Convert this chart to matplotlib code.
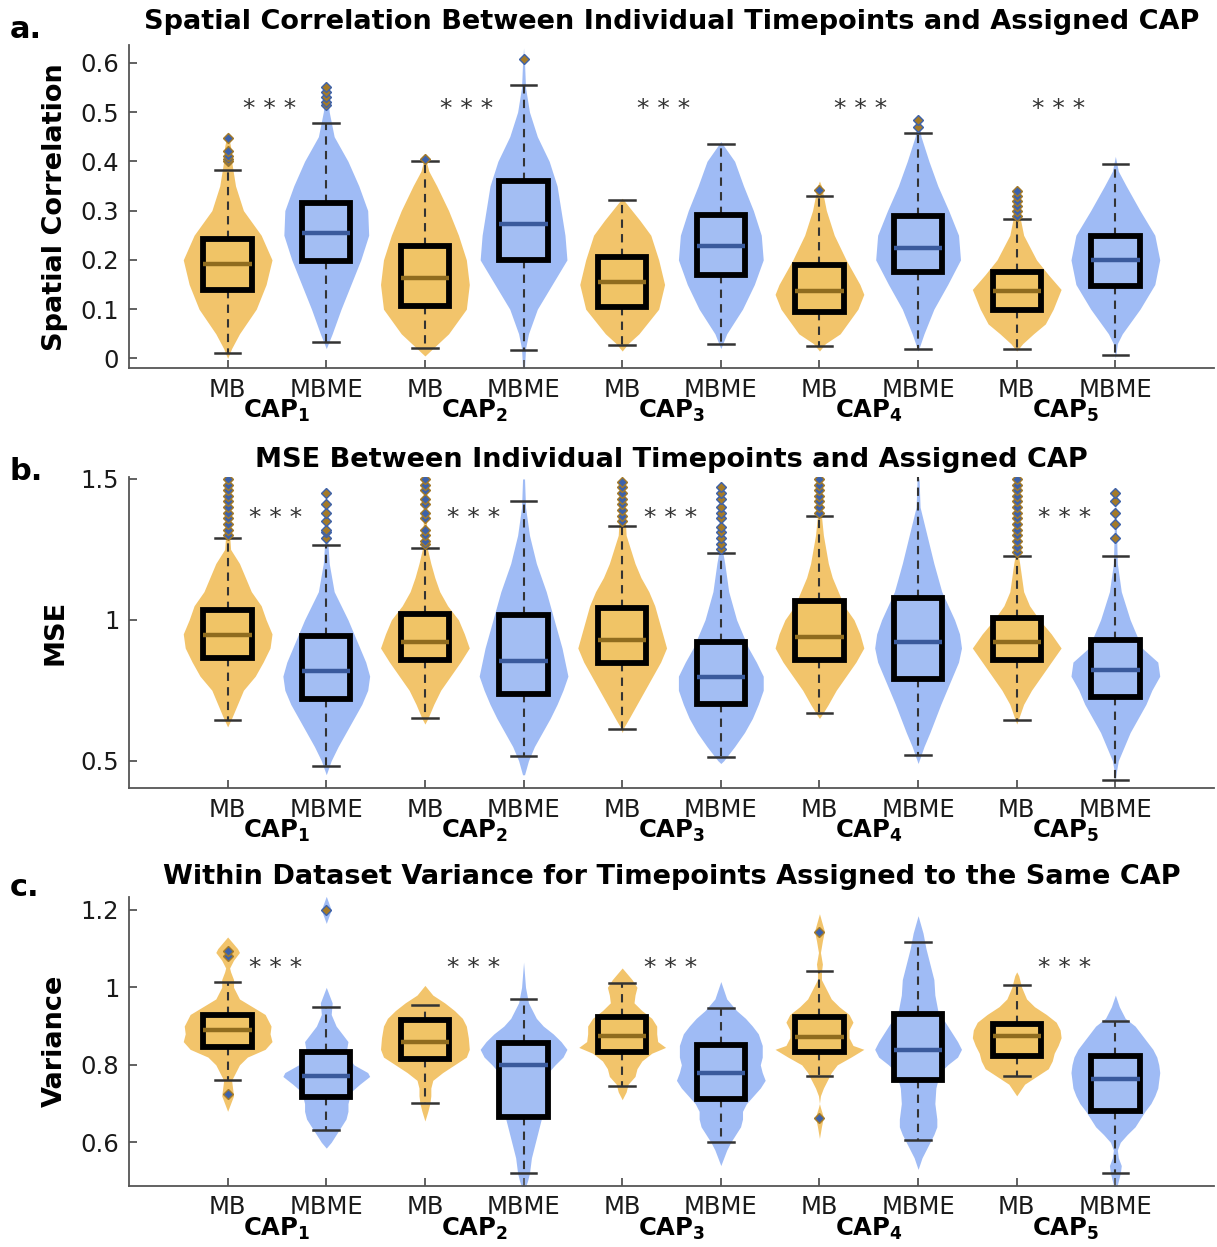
import matplotlib
matplotlib.use("Agg")
import matplotlib.pyplot as plt
import numpy as np

plt.rcParams['font.family'] = ['DejaVu Sans']
plt.rcParams['mathtext.fontset'] = 'dejavusans'

# ---------------- data ----------------
GROUP_LABELS = ["MB", "MBME"] * 5
CAP_LABELS = [r'$\mathbf{CAP}_{\mathbf{%d}}$' % i for i in range(1, 6)]
POSITIONS = list(range(1, 11))

# Panel a: spatial correlation
A_Q1 = [0.138, 0.198, 0.107, 0.200, 0.105, 0.169, 0.095, 0.175, 0.099, 0.146]
A_MED = [0.192, 0.255, 0.163, 0.272, 0.156, 0.229, 0.137, 0.225, 0.137, 0.200]
A_Q3 = [0.242, 0.316, 0.228, 0.360, 0.206, 0.292, 0.190, 0.290, 0.176, 0.248]
A_WLO = [0.012, 0.034, 0.022, 0.018, 0.027, 0.030, 0.025, 0.019, 0.020, 0.008]
A_WHI = [0.382, 0.478, 0.400, 0.554, 0.322, 0.435, 0.330, 0.458, 0.282, 0.394]
A_OUT = [[0.40, 0.405, 0.41, 0.42, 0.447], [0.515, 0.52, 0.53, 0.54, 0.55],
         [0.405], [0.607], [], [], [0.341], [0.47, 0.484],
         [0.29, 0.30, 0.31, 0.32, 0.33, 0.34], []]
A_LEVELS = [
    [0.0, 0.02, 0.05, 0.1, 0.15, 0.2, 0.25, 0.3, 0.35, 0.4, 0.43, 0.46],
    [0.02, 0.05, 0.1, 0.15, 0.2, 0.25, 0.3, 0.35, 0.4, 0.45, 0.5, 0.56],
    [0.005, 0.02, 0.05, 0.1, 0.15, 0.2, 0.25, 0.3, 0.35, 0.38, 0.41],
    [-0.02, 0.02, 0.05, 0.1, 0.15, 0.2, 0.25, 0.3, 0.35, 0.4, 0.45, 0.5, 0.55, 0.6, 0.63],
    [0.015, 0.03, 0.05, 0.1, 0.15, 0.2, 0.25, 0.28, 0.3, 0.325],
    [0.02, 0.05, 0.1, 0.15, 0.2, 0.25, 0.3, 0.35, 0.4, 0.44],
    [0.015, 0.03, 0.05, 0.1, 0.13, 0.15, 0.2, 0.25, 0.3, 0.35, 0.36],
    [0.015, 0.05, 0.1, 0.15, 0.2, 0.25, 0.3, 0.35, 0.4, 0.45, 0.49],
    [0.015, 0.03, 0.05, 0.07, 0.1, 0.14, 0.17, 0.2, 0.25, 0.3, 0.345],
    [0.0, 0.03, 0.05, 0.1, 0.15, 0.2, 0.25, 0.3, 0.35, 0.38, 0.41],
]
A_WIDTHS = [
    [0, 0.04, 0.12, 0.29, 0.39, 0.45, 0.34, 0.16, 0.08, 0.04, 0.03, 0],
    [0, 0.06, 0.15, 0.25, 0.35, 0.43, 0.42, 0.33, 0.22, 0.08, 0.03, 0],
    [0, 0.08, 0.24, 0.42, 0.45, 0.42, 0.34, 0.24, 0.12, 0.04, 0],
    [0.01, 0.02, 0.05, 0.14, 0.29, 0.44, 0.42, 0.38, 0.34, 0.26, 0.14, 0.06, 0.02, 0.01, 0],
    [0, 0.06, 0.17, 0.37, 0.43, 0.37, 0.29, 0.18, 0.10, 0],
    [0, 0.06, 0.22, 0.34, 0.43, 0.41, 0.33, 0.23, 0.14, 0],
    [0, 0.06, 0.21, 0.39, 0.45, 0.41, 0.27, 0.15, 0.07, 0.02, 0],
    [0, 0.06, 0.16, 0.30, 0.43, 0.41, 0.31, 0.20, 0.11, 0.03, 0],
    [0, 0.06, 0.17, 0.29, 0.37, 0.45, 0.32, 0.20, 0.07, 0.02, 0],
    [0, 0.02, 0.07, 0.25, 0.40, 0.45, 0.40, 0.25, 0.11, 0.03, 0],
]
A_SIG = [1, 1, 1, 1, 1]

# Panel b: MSE
B_Q1 = [0.864, 0.720, 0.857, 0.738, 0.845, 0.702, 0.858, 0.790, 0.857, 0.726]
B_MED = [0.947, 0.818, 0.922, 0.853, 0.928, 0.797, 0.940, 0.920, 0.920, 0.823]
B_Q3 = [1.035, 0.943, 1.020, 1.017, 1.041, 0.920, 1.067, 1.076, 1.008, 0.928]
B_WLO = [0.644, 0.482, 0.653, 0.517, 0.612, 0.512, 0.668, 0.520, 0.644, 0.431]
B_WHI = [1.289, 1.266, 1.254, 1.422, 1.334, 1.238, 1.370, 1.560, 1.227, 1.227]
B_OUT = [[1.30, 1.32, 1.34, 1.36, 1.38, 1.40, 1.42, 1.44, 1.46, 1.48, 1.50],
         [1.29, 1.31, 1.32, 1.35, 1.38, 1.41, 1.45],
         [1.27, 1.28, 1.30, 1.32, 1.36, 1.38, 1.41, 1.43, 1.46, 1.48, 1.50],
         [],
         [1.35, 1.37, 1.39, 1.41, 1.43, 1.45, 1.47, 1.49],
         [1.25, 1.27, 1.29, 1.31, 1.33, 1.36, 1.38, 1.40, 1.43, 1.45, 1.47],
         [1.38, 1.40, 1.42, 1.44, 1.46, 1.48, 1.50],
         [],
         [1.24, 1.26, 1.28, 1.30, 1.32, 1.34, 1.36, 1.38, 1.40, 1.42, 1.44, 1.46, 1.48, 1.50],
         [1.29, 1.34, 1.38, 1.42, 1.45]]
B_LEVELS = [
    [0.62, 0.65, 0.7, 0.75, 0.8, 0.85, 0.9, 0.95, 1.0, 1.05, 1.1, 1.15, 1.2, 1.25, 1.3, 1.5],
    [0.45, 0.5, 0.55, 0.6, 0.65, 0.7, 0.75, 0.8, 0.85, 0.9, 0.95, 1.0, 1.1, 1.2, 1.28, 1.45],
    [0.63, 0.65, 0.7, 0.75, 0.8, 0.85, 0.9, 0.95, 1.0, 1.05, 1.1, 1.15, 1.2, 1.26, 1.5],
    [0.45, 0.5, 0.55, 0.6, 0.65, 0.7, 0.75, 0.8, 0.9, 1.0, 1.1, 1.2, 1.3, 1.4, 1.5],
    [0.6, 0.62, 0.65, 0.7, 0.75, 0.8, 0.85, 0.9, 0.95, 1.0, 1.05, 1.1, 1.15, 1.2, 1.3, 1.5],
    [0.49, 0.5, 0.55, 0.6, 0.65, 0.7, 0.75, 0.8, 0.85, 0.9, 0.95, 1.0, 1.1, 1.2, 1.24, 1.48],
    [0.65, 0.66, 0.7, 0.75, 0.8, 0.85, 0.9, 0.95, 1.0, 1.05, 1.1, 1.15, 1.2, 1.3, 1.37, 1.5],
    [0.49, 0.5, 0.55, 0.6, 0.7, 0.8, 0.85, 0.9, 0.95, 1.0, 1.1, 1.2, 1.3, 1.4, 1.5],
    [0.63, 0.65, 0.7, 0.75, 0.8, 0.85, 0.9, 0.95, 1.0, 1.05, 1.1, 1.2, 1.22, 1.5],
    [0.43, 0.46, 0.5, 0.55, 0.6, 0.65, 0.7, 0.75, 0.8, 0.85, 0.9, 0.95, 1.0, 1.1, 1.2, 1.47],
]
B_WIDTHS = [
    [0, 0.04, 0.10, 0.16, 0.28, 0.36, 0.43, 0.45, 0.39, 0.34, 0.24, 0.18, 0.12, 0.03, 0.02, 0.01],
    [0, 0.05, 0.12, 0.20, 0.28, 0.36, 0.42, 0.44, 0.40, 0.34, 0.28, 0.22, 0.08, 0.03, 0.015, 0],
    [0, 0.03, 0.09, 0.16, 0.26, 0.36, 0.45, 0.40, 0.34, 0.23, 0.15, 0.10, 0.06, 0.02, 0.01],
    [0.01, 0.05, 0.11, 0.19, 0.27, 0.34, 0.40, 0.45, 0.39, 0.31, 0.23, 0.13, 0.06, 0.02, 0.01],
    [0, 0.02, 0.07, 0.15, 0.23, 0.31, 0.39, 0.45, 0.41, 0.37, 0.33, 0.27, 0.19, 0.13, 0.04, 0.01],
    [0, 0.03, 0.14, 0.24, 0.32, 0.38, 0.43, 0.43, 0.36, 0.28, 0.22, 0.16, 0.08, 0.04, 0.02, 0.01],
    [0, 0.02, 0.09, 0.17, 0.27, 0.37, 0.45, 0.41, 0.35, 0.25, 0.19, 0.13, 0.09, 0.04, 0.02, 0.01],
    [0, 0.01, 0.06, 0.12, 0.23, 0.35, 0.41, 0.44, 0.42, 0.37, 0.24, 0.16, 0.09, 0.02, 0.01],
    [0, 0.02, 0.07, 0.15, 0.25, 0.35, 0.45, 0.35, 0.23, 0.13, 0.07, 0.03, 0.02, 0.01],
    [0, 0.01, 0.03, 0.09, 0.15, 0.23, 0.31, 0.37, 0.45, 0.43, 0.27, 0.21, 0.15, 0.06, 0.02, 0],
]
B_SIG = [1, 1, 1, 0, 1]

# Panel c: variance
C_Q1 = [0.845, 0.716, 0.814, 0.666, 0.834, 0.711, 0.832, 0.761, 0.824, 0.682]
C_MED = [0.890, 0.770, 0.860, 0.799, 0.875, 0.780, 0.873, 0.838, 0.875, 0.764]
C_Q3 = [0.929, 0.832, 0.916, 0.857, 0.924, 0.850, 0.924, 0.931, 0.906, 0.824]
C_WLO = [0.761, 0.633, 0.701, 0.520, 0.745, 0.602, 0.770, 0.606, 0.770, 0.520]
C_WHI = [1.015, 0.950, 0.955, 0.969, 1.010, 0.946, 1.042, 1.116, 1.006, 0.914]
C_OUT = [[0.725, 1.08, 1.095], [1.20], [], [], [], [], [0.664, 1.144], [], [], []]
C_LEVELS = [
    [0.68, 0.7, 0.72, 0.74, 0.76, 0.78, 0.8, 0.82, 0.84, 0.86, 0.88, 0.9, 0.93, 0.95, 0.97,
     1.0, 1.02, 1.04, 1.05, 1.07, 1.09, 1.1, 1.13],
    [0.585, 0.6, 0.62, 0.64, 0.66, 0.68, 0.7, 0.73, 0.75, 0.77, 0.78, 0.8, 0.83, 0.86, 0.88,
     0.9, 0.93, 0.96, 0.98, 1.0, 1.165, 1.2, 1.235],
    [0.655, 0.68, 0.7, 0.72, 0.74, 0.76, 0.78, 0.8, 0.82, 0.84, 0.87, 0.9, 0.92, 0.94, 0.96,
     0.98, 1.005],
    [0.47, 0.5, 0.52, 0.56, 0.58, 0.62, 0.66, 0.68, 0.72, 0.76, 0.78, 0.8, 0.82, 0.84, 0.86,
     0.88, 0.9, 0.92, 0.96, 1.0, 1.065],
    [0.71, 0.73, 0.75, 0.77, 0.79, 0.81, 0.83, 0.845, 0.86, 0.88, 0.9, 0.92, 0.94, 0.96, 0.98,
     1.0, 1.02, 1.05],
    [0.54, 0.56, 0.58, 0.6, 0.62, 0.64, 0.66, 0.68, 0.7, 0.72, 0.74, 0.76, 0.78, 0.8, 0.82,
     0.85, 0.88, 0.9, 0.92, 0.94, 0.97, 1.015],
    [0.61, 0.64, 0.665, 0.69, 0.7, 0.72, 0.74, 0.76, 0.78, 0.8, 0.82, 0.84, 0.85, 0.87, 0.89,
     0.91, 0.93, 0.95, 0.97, 1.0, 1.02, 1.04, 1.06, 1.09, 1.12, 1.145, 1.19],
    [0.53, 0.56, 0.58, 0.6, 0.62, 0.64, 0.66, 0.7, 0.74, 0.78, 0.8, 0.82, 0.84, 0.86, 0.9,
     0.94, 0.98, 1.02, 1.06, 1.1, 1.14, 1.185],
    [0.72, 0.75, 0.77, 0.79, 0.81, 0.83, 0.85, 0.87, 0.89, 0.91, 0.93, 0.95, 0.97, 1.0, 1.03,
     1.04],
    [0.47, 0.5, 0.52, 0.54, 0.56, 0.58, 0.6, 0.62, 0.64, 0.66, 0.68, 0.7, 0.72, 0.74, 0.76,
     0.78, 0.8, 0.82, 0.84, 0.86, 0.88, 0.9, 0.92, 0.95, 0.98],
]
C_WIDTHS = [
    [0, 0.03, 0.06, 0.05, 0.04, 0.08, 0.12, 0.20, 0.38, 0.45, 0.43, 0.44, 0.38, 0.25, 0.12,
     0.06, 0.06, 0.03, 0.02, 0.06, 0.12, 0.10, 0],
    [0, 0.05, 0.10, 0.15, 0.20, 0.22, 0.22, 0.25, 0.34, 0.44, 0.42, 0.28, 0.20, 0.22, 0.16,
     0.10, 0.05, 0.06, 0.03, 0, 0, 0.05, 0],
    [0, 0.03, 0.05, 0.06, 0.06, 0.08, 0.18, 0.30, 0.42, 0.45, 0.44, 0.42, 0.38, 0.30, 0.20,
     0.08, 0],
    [0, 0.04, 0.06, 0.08, 0.10, 0.14, 0.18, 0.20, 0.20, 0.22, 0.25, 0.32, 0.40, 0.44, 0.38,
     0.30, 0.20, 0.13, 0.05, 0.02, 0],
    [0, 0.04, 0.06, 0.13, 0.15, 0.20, 0.30, 0.44, 0.36, 0.35, 0.35, 0.30, 0.20, 0.12, 0.13,
     0.15, 0.10, 0],
    [0, 0.03, 0.06, 0.10, 0.15, 0.20, 0.22, 0.22, 0.26, 0.33, 0.40, 0.45, 0.42, 0.40, 0.42,
     0.42, 0.38, 0.32, 0.25, 0.16, 0.06, 0],
    [0, 0.02, 0.04, 0.01, 0, 0.01, 0.04, 0.08, 0.12, 0.18, 0.32, 0.45, 0.34, 0.30, 0.30,
     0.34, 0.30, 0.20, 0.12, 0.06, 0.02, 0.02, 0.03, 0.01, 0.03, 0.05, 0],
    [0, 0.04, 0.08, 0.12, 0.16, 0.19, 0.19, 0.17, 0.18, 0.22, 0.30, 0.40, 0.44, 0.40, 0.30,
     0.20, 0.17, 0.16, 0.12, 0.08, 0.05, 0],
    [0, 0.08, 0.20, 0.32, 0.36, 0.38, 0.42, 0.45, 0.44, 0.40, 0.30, 0.18, 0.10, 0.05, 0.02,
     0],
    [0, 0.03, 0.05, 0.06, 0.03, 0.02, 0.05, 0.12, 0.20, 0.25, 0.30, 0.36, 0.40, 0.43, 0.44,
     0.45, 0.44, 0.42, 0.38, 0.32, 0.26, 0.20, 0.10, 0.04, 0],
]
C_SIG = [1, 1, 1, 0, 1]

# ---------------- style ----------------
YELLOW = '#f2c46b'
BLUE = '#9fbbf5'
BOX_Y = '#f0c466'
BOX_B = '#a3bef3'
MED_Y = '#8f6c1f'
MED_B = '#3a5a9c'
GREY = '#555555'

fig = plt.figure(figsize=(12.17, 12.47), dpi=100)

L = 129 / 1217
W = (1214 - 129) / 1217
panels = [
    dict(rect=[L, 1 - 368.3 / 1247, W, (368.3 - 45) / 1247], ylim=(-0.02, 0.636),
         yticks=[0, 0.1, 0.2, 0.3, 0.4, 0.5, 0.6],
         yticklabels=['0', '0.1', '0.2', '0.3', '0.4', '0.5', '0.6'],
         ylabel='Spatial Correlation',
         title='Spatial Correlation Between Individual Timepoints and Assigned CAP',
         title_y=1 - 22 / 1247, letter='a.', letter_y=1 - 30 / 1247,
         q1=A_Q1, med=A_MED, q3=A_Q3, wlo=A_WLO, whi=A_WHI, out=A_OUT,
         lev=A_LEVELS, wid=A_WIDTHS, sig=A_SIG, sig_y=0.518, sig_dx=0.42),
    dict(rect=[L, 1 - 788.3 / 1247, W, (788.3 - 476.7) / 1247], ylim=(0.402, 1.508),
         yticks=[0.5, 1.0, 1.5], yticklabels=['0.5', '1', '1.5'],
         ylabel='MSE',
         title='MSE Between Individual Timepoints and Assigned CAP',
         title_y=1 - 460 / 1247, letter='b.', letter_y=1 - 472 / 1247,
         q1=B_Q1, med=B_MED, q3=B_Q3, wlo=B_WLO, whi=B_WHI, out=B_OUT,
         lev=B_LEVELS, wid=B_WIDTHS, sig=B_SIG, sig_y=1.38, sig_dx=0.49),
    dict(rect=[L, 1 - 1185.7 / 1247, W, (1185.7 - 896.7) / 1247], ylim=(0.488, 1.234),
         yticks=[0.6, 0.8, 1.0, 1.2], yticklabels=['0.6', '0.8', '1', '1.2'],
         ylabel='Variance',
         title='Within Dataset Variance for Timepoints Assigned to the Same CAP',
         title_y=1 - 877 / 1247, letter='c.', letter_y=1 - 888 / 1247,
         q1=C_Q1, med=C_MED, q3=C_Q3, wlo=C_WLO, whi=C_WHI, out=C_OUT,
         lev=C_LEVELS, wid=C_WIDTHS, sig=C_SIG, sig_y=1.064, sig_dx=0.49),
]

for p in panels:
    ax = fig.add_axes(p['rect'])
    # violins
    for i, pos in enumerate(POSITIONS):
        col = YELLOW if i % 2 == 0 else BLUE
        lev = np.array(p['lev'][i])
        wid = np.array(p['wid'][i])
        ax.fill_betweenx(lev, pos - wid, pos + wid, color=col, lw=0, zorder=1)
    # boxes
    stats = []
    for i in range(10):
        stats.append(dict(med=p['med'][i], q1=p['q1'][i], q3=p['q3'][i],
                          whislo=p['wlo'][i], whishi=p['whi'][i],
                          fliers=p['out'][i]))
    bp = ax.bxp(stats, positions=POSITIONS, widths=0.49, patch_artist=True,
                showfliers=True, capwidths=0.26,
                boxprops=dict(edgecolor='black', linewidth=4.2),
                whiskerprops=dict(color='#333333', linewidth=1.5, linestyle=(0, (4, 3))),
                capprops=dict(color='#333333', linewidth=1.8),
                medianprops=dict(linewidth=3.2),
                flierprops=dict(marker='D', markersize=5.5))
    for i in range(10):
        ymb = (i % 2 == 0)
        bp['boxes'][i].set_facecolor(BOX_Y if ymb else BOX_B)
        bp['boxes'][i].set_zorder(3)
        bp['medians'][i].set_color(MED_Y if ymb else MED_B)
        bp['medians'][i].set_zorder(4)
        bp['fliers'][i].set_markerfacecolor('#3d62aa' if ymb else '#a47a28')
        bp['fliers'][i].set_markeredgecolor('#a47a28' if ymb else '#3d62aa')
        bp['fliers'][i].set_markeredgewidth(1.0)
        bp['fliers'][i].set_zorder(5)
    for w in bp['whiskers']:
        w.set_zorder(2)
    for c in bp['caps']:
        c.set_zorder(2)

    # significance stars
    for k in range(5):
        if p['sig'][k]:
            ax.annotate('* * *', xy=(POSITIONS[2 * k] + p['sig_dx'], p['sig_y']),
                        xytext=(0, -4), textcoords='offset points',
                        ha='center', va='center', fontsize=18, color='#333333', zorder=6)

    # CAP group labels
    for k in range(5):
        ax.annotate(CAP_LABELS[k], xy=((POSITIONS[2 * k] + POSITIONS[2 * k + 1]) / 2, 0),
                    xycoords=('data', 'axes fraction'), xytext=(0, -36),
                    textcoords='offset points', ha='center', va='baseline',
                    fontsize=17.5, color='black', annotation_clip=False)

    ax.set_xlim(0, 11)
    ax.set_ylim(*p['ylim'])
    ax.set_xticks(POSITIONS)
    ax.set_xticklabels(GROUP_LABELS, fontsize=17.5, color='#1a1a1a')
    ax.set_yticks(p['yticks'])
    ax.set_yticklabels(p['yticklabels'], fontsize=17.5, color='#1a1a1a')
    ax.tick_params(axis='both', direction='in', length=6, width=1.3, color=GREY)
    ax.tick_params(axis='x', pad=7)
    ax.tick_params(axis='y', pad=7)
    for s in ['top', 'right']:
        ax.spines[s].set_visible(False)
    for s in ['left', 'bottom']:
        ax.spines[s].set_color(GREY)
        ax.spines[s].set_linewidth(1.3)
    ax.set_ylabel(p['ylabel'], fontsize=19.5, fontweight='bold', labelpad=9)
    ax.set_facecolor('none')

    fig.text(L + W / 2 + 0.0, p['title_y'], p['title'], ha='center', va='center',
             fontsize=19.5, fontweight='bold')
    fig.text(10 / 1217, p['letter_y'], p['letter'], ha='left', va='center',
             fontsize=22, fontweight='bold')

fig.savefig('out.png', dpi=100)
